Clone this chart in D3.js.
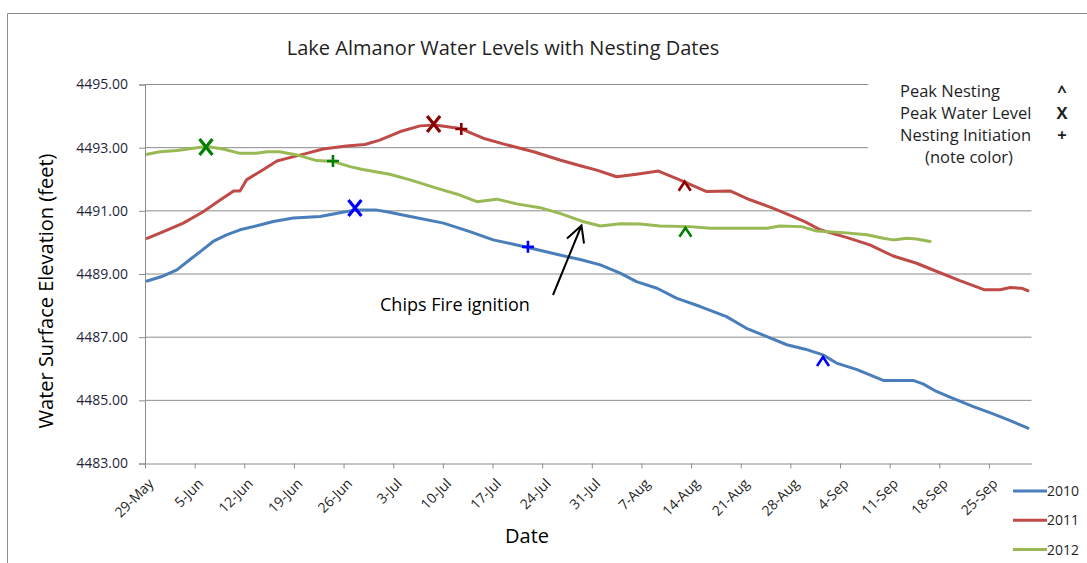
<!DOCTYPE html>
<html>
<head>
<meta charset="utf-8">
<script src="https://cdn.jsdelivr.net/npm/d3@7"></script>
<style>
  body { margin: 0; background: #fff; }
  svg { display: block; font-family: 'Open Sans', sans-serif; }
</style>
</head>
<body>
<svg id="chart"></svg>
<script>
// day offsets counted from 29-May, water levels in feet
const years = ["2010", "2011", "2012"];
const colors = ["#4A7EBB", "#BE4B48", "#98B954"];
const markColors = ["#0000FF", "#8B0000", "#008000"];

const days2010 = [0.3, 2.5, 4.5, 6.3, 7.8, 9.6, 11.5, 13.4, 16.2, 18.1, 20.9, 24.7, 27.5, 29.8, 32.5, 34.1, 37.4, 42.1, 45.8, 49.1, 52.4, 54.0, 58.5, 61.5, 64.2, 67.0, 69.3, 72.2, 75.0, 78.3, 82.0, 84.8, 87.7, 90.5, 93.1, 95.6, 97.5, 100.4, 104.1, 108.3, 109.7, 111.6, 113.5, 116.8, 119.6, 122.0, 124.5];
const level2010 = [4488.78, 4488.93, 4489.13, 4489.45, 4489.71, 4490.03, 4490.24, 4490.40, 4490.55, 4490.66, 4490.77, 4490.82, 4490.94, 4491.03, 4491.03, 4490.97, 4490.82, 4490.61, 4490.34, 4490.08, 4489.92, 4489.84, 4489.60, 4489.45, 4489.29, 4489.03, 4488.76, 4488.55, 4488.23, 4487.97, 4487.65, 4487.28, 4487.02, 4486.76, 4486.62, 4486.44, 4486.18, 4485.97, 4485.63, 4485.63, 4485.52, 4485.28, 4485.10, 4484.80, 4484.57, 4484.36, 4484.12];

const days2011 = [0.3, 2.6, 5.4, 8.2, 10.6, 12.5, 13.4, 14.3, 16.2, 18.6, 20.0, 22.8, 25.1, 28.4, 31.0, 33.1, 36.0, 38.8, 40.9, 44.4, 47.7, 51.0, 54.8, 58.5, 61.5, 63.7, 66.5, 69.3, 72.4, 75.4, 79.2, 82.5, 85.3, 88.6, 91.4, 93.1, 95.2, 98.9, 102.2, 105.5, 108.8, 112.1, 114.9, 118.4, 120.6, 122.0, 123.6, 124.5];
const level2011 = [4490.13, 4490.34, 4490.61, 4490.97, 4491.34, 4491.63, 4491.63, 4491.98, 4492.24, 4492.58, 4492.66, 4492.82, 4492.96, 4493.05, 4493.10, 4493.24, 4493.51, 4493.69, 4493.72, 4493.61, 4493.30, 4493.09, 4492.87, 4492.61, 4492.42, 4492.29, 4492.08, 4492.16, 4492.26, 4491.98, 4491.61, 4491.63, 4491.35, 4491.08, 4490.82, 4490.65, 4490.40, 4490.16, 4489.92, 4489.57, 4489.34, 4489.04, 4488.79, 4488.50, 4488.50, 4488.57, 4488.55, 4488.47];

const days2012 = [0.3, 2.1, 4.5, 6.8, 8.7, 11.0, 13.4, 15.7, 17.2, 19.0, 21.4, 24.2, 26.6, 28.9, 30.7, 34.5, 37.4, 41.1, 44.4, 46.8, 49.6, 52.4, 55.7, 58.5, 61.5, 64.2, 67.0, 69.8, 72.6, 76.8, 79.7, 87.7, 89.5, 92.6, 94.7, 98.5, 101.8, 104.1, 105.5, 107.4, 108.8, 110.7];
const level2012 = [4492.79, 4492.87, 4492.91, 4492.98, 4493.04, 4492.96, 4492.82, 4492.82, 4492.87, 4492.87, 4492.77, 4492.59, 4492.56, 4492.40, 4492.31, 4492.16, 4491.98, 4491.72, 4491.50, 4491.29, 4491.37, 4491.22, 4491.10, 4490.92, 4490.68, 4490.52, 4490.59, 4490.58, 4490.52, 4490.50, 4490.45, 4490.45, 4490.52, 4490.50, 4490.36, 4490.31, 4490.24, 4490.13, 4490.08, 4490.13, 4490.11, 4490.03];

// nesting / water level markers
const markerYear = ["2012", "2012", "2010", "2011", "2011", "2010", "2011", "2012", "2010"];
const markerType = ["X", "+", "X", "X", "+", "+", "^", "^", "^"];
const markerDay = [8.6, 26.5, 29.6, 40.7, 44.6, 54.0, 76.1, 76.2, 95.6];
const markerLevel = [4493.02, 4492.58, 4491.09, 4493.75, 4493.59, 4489.86, 4491.78, 4490.32, 4486.23];

const tickLabels = ["29-May", "5-Jun", "12-Jun", "19-Jun", "26-Jun", "3-Jul", "10-Jul", "17-Jul", "24-Jul", "31-Jul", "7-Aug", "14-Aug", "21-Aug", "28-Aug", "4-Sep", "11-Sep", "18-Sep", "25-Sep"];
const yTicks = [4483, 4485, 4487, 4489, 4491, 4493, 4495];

const noteLabels = ["Peak Nesting", "Peak Water Level", "Nesting Initiation"];
const noteSymbols = ["^", "X", "+"];

const W = 1087, H = 563;
const margin = { top: 84.5, right: 55.5, bottom: 99.5, left: 145 };

const svg = d3.select("#chart").attr("width", W).attr("height", H);

// outer chart border (top + left visible)
svg.append("path")
    .attr("d", `M7.5,${H} V13.5 H${W}`)
    .attr("fill", "none")
    .attr("stroke", "#8c8c8c")
    .attr("stroke-width", 1);

const xScale = d3.scaleLinear()
    .domain([0, 125])
    .range([margin.left, W - margin.right]);

const yScale = d3.scaleLinear()
    .domain([4483, 4495])
    .range([H - margin.bottom, margin.top]);

// gridlines
svg.append("g")
    .selectAll("line")
    .data(yTicks.slice(1))
    .join("line")
    .attr("x1", margin.left)
    .attr("x2", W - margin.right)
    .attr("y1", d => yScale(d))
    .attr("y2", d => yScale(d))
    .attr("stroke", "#8c8c8c")
    .attr("stroke-width", 1);

// y axis
const yAxis = g => g
    .attr("transform", `translate(${margin.left},0)`)
    .call(d3.axisLeft(yScale).tickValues(yTicks).tickFormat(d3.format(".2f")).tickSize(6).tickPadding(11))
    .call(g => g.selectAll("path, line").attr("stroke", "#8c8c8c"))
    .call(g => g.selectAll("text").attr("font-size", 14).attr("fill", "#1f1f3a").attr("font-family", "'Open Sans', sans-serif"));
svg.append("g").call(yAxis);

// x axis
const xAxis = g => g
    .attr("transform", `translate(0,${H - margin.bottom})`)
    .call(d3.axisBottom(xScale).tickValues(tickLabels.map((t, i) => i * 7)).tickFormat((d, i) => tickLabels[i]).tickSize(5).tickSizeOuter(0))
    .call(g => g.selectAll("path, line").attr("stroke", "#8c8c8c"))
    .call(g => g.selectAll("text")
        .attr("font-size", 14)
        .attr("fill", "#1f1f1f")
        .attr("font-family", "'Open Sans', sans-serif")
        .attr("text-anchor", "end")
        .attr("dy", null)
        .attr("y", 0)
        .attr("transform", "translate(9,21) rotate(-45)"));
svg.append("g").call(xAxis);

// series
const series = [
    { year: years[0], color: colors[0], values: days2010.map((d, i) => [d, level2010[i]]) },
    { year: years[1], color: colors[1], values: days2011.map((d, i) => [d, level2011[i]]) },
    { year: years[2], color: colors[2], values: days2012.map((d, i) => [d, level2012[i]]) }
];

const line = d3.line()
    .x(d => xScale(d[0]))
    .y(d => yScale(d[1]));

svg.append("g")
    .selectAll("path")
    .data(series)
    .join("path")
    .attr("d", d => line(d.values))
    .attr("fill", "none")
    .attr("stroke", d => d.color)
    .attr("stroke-width", 3)
    .attr("stroke-linejoin", "round")
    .attr("stroke-linecap", "round");

// markers
const markerPath = type => {
    if (type === "X") return "M-6.5,-8 L6.5,8 M6.5,-8 L-6.5,8";
    if (type === "+") return "M-6,0 H6 M0,-6 V6";
    return "M-6,4.5 L0,-4.5 L6,4.5";
};

svg.append("g")
    .selectAll("path")
    .data(markerDay)
    .join("path")
    .attr("transform", (d, i) => `translate(${xScale(d)},${yScale(markerLevel[i])})`)
    .attr("d", (d, i) => markerPath(markerType[i]))
    .attr("fill", "none")
    .attr("stroke", (d, i) => markColors[years.indexOf(markerYear[i])])
    .attr("stroke-width", (d, i) => markerType[i] === "X" ? 3.2 : 2.6);

// annotation box (covers the gridlines behind it)
svg.append("rect")
    .attr("x", 868).attr("y", 70)
    .attr("width", W - 868).attr("height", 105)
    .attr("fill", "#fff");

const note = svg.append("g").attr("font-size", 16.5).attr("fill", "#1f1f1f");
noteLabels.forEach((t, i) => {
    note.append("text").attr("x", 900).attr("y", 97 + i * 22).text(t);
    note.append("text").attr("x", 1062).attr("y", 97 + i * 22)
        .attr("text-anchor", "middle").attr("font-weight", "bold").text(noteSymbols[i]);
});
note.append("text").attr("x", 969).attr("y", 163).attr("text-anchor", "middle").text("(note color)");

// title
svg.append("text")
    .attr("x", 503).attr("y", 55)
    .attr("text-anchor", "middle")
    .attr("font-size", 20)
    .attr("fill", "#1f1f1f")
    .text("Lake Almanor Water Levels with Nesting Dates");

// axis titles
svg.append("text")
    .attr("transform", "translate(53,291) rotate(-90)")
    .attr("text-anchor", "middle")
    .attr("font-size", 20)
    .attr("fill", "#000")
    .text("Water Surface Elevation (feet)");

svg.append("text")
    .attr("x", 527).attr("y", 543)
    .attr("text-anchor", "middle")
    .attr("font-size", 20)
    .attr("fill", "#000")
    .text("Date");

// Chips Fire annotation
svg.append("text")
    .attr("x", 380).attr("y", 311)
    .attr("font-size", 18)
    .attr("fill", "#000")
    .text("Chips Fire ignition");

svg.append("path")
    .attr("d", "M553,295 L581.5,225.5 M567,238.5 L581.5,225.5 L584,243.5")
    .attr("fill", "none")
    .attr("stroke", "#000")
    .attr("stroke-width", 2);

// series legend
const legend = svg.append("g");
series.forEach((s, i) => {
    const y = 491 + i * 29.3;
    legend.append("line")
        .attr("x1", 1013).attr("x2", 1047)
        .attr("y1", y).attr("y2", y)
        .attr("stroke", s.color).attr("stroke-width", 3);
    legend.append("text")
        .attr("x", 1047).attr("y", y + 5)
        .attr("font-size", 14)
        .attr("fill", "#1f1f1f")
        .text(s.year);
});
</script>
</body>
</html>
